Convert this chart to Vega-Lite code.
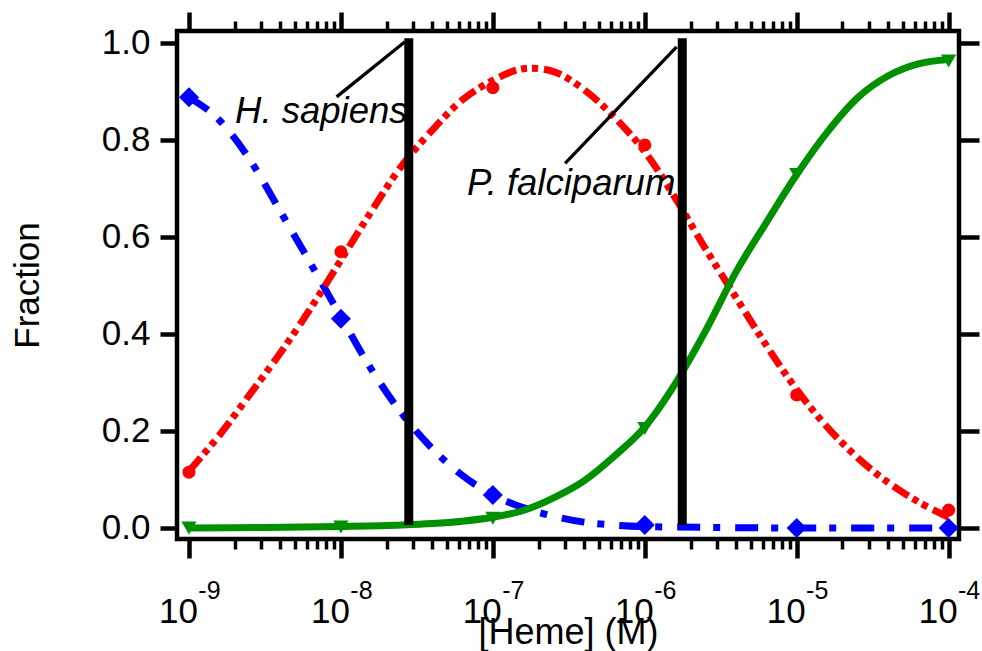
{
  "$schema": "https://vega.github.io/schema/vega-lite/v6.json",
  "autosize": "none",
  "width": 782,
  "height": 508,
  "padding": {"left": 177, "top": 31, "right": 23, "bottom": 112},
  "background": "white",
  "config": {
    "font": "Liberation Sans",
    "view": {"stroke": "black", "strokeWidth": 4.5},
    "axis": {"grid": false, "domain": false, "labelFont": "Liberation Sans", "titleFont": "Liberation Sans", "labelColor": "black", "titleColor": "black", "tickColor": "black", "titleFontWeight": "normal", "labelFlush": false, "labelOverlap": false, "labelBound": false}
  },
  "datasets": {
    "curves": [
      {"s": "b", "x": 1e-9, "y": 0.887}, {"s": "b", "x": 1.585e-9, "y": 0.84}, {"s": "b", "x": 2.512e-9, "y": 0.759}, {"s": "b", "x": 3.981e-9, "y": 0.653}, {"s": "b", "x": 6.31e-9, "y": 0.545}, {"s": "b", "x": 1e-8, "y": 0.435}, {"s": "b", "x": 1.585e-8, "y": 0.327}, {"s": "b", "x": 2.512e-8, "y": 0.236}, {"s": "b", "x": 3.981e-8, "y": 0.164}, {"s": "b", "x": 6.31e-8, "y": 0.108}, {"s": "b", "x": 1e-7, "y": 0.068}, {"s": "b", "x": 1.585e-7, "y": 0.042}, {"s": "b", "x": 2.512e-7, "y": 0.024}, {"s": "b", "x": 3.981e-7, "y": 0.012}, {"s": "b", "x": 6.31e-7, "y": 0.006}, {"s": "b", "x": 1e-6, "y": 0.003}, {"s": "b", "x": 3.162e-6, "y": 0.001}, {"s": "b", "x": 1e-5, "y": 0.0}, {"s": "b", "x": 1e-4, "y": 0.0},
      {"s": "r", "x": 1e-9, "y": 0.117}, {"s": "r", "x": 1.585e-9, "y": 0.191}, {"s": "r", "x": 2.512e-9, "y": 0.275}, {"s": "r", "x": 3.981e-9, "y": 0.36}, {"s": "r", "x": 6.31e-9, "y": 0.452}, {"s": "r", "x": 1e-8, "y": 0.552}, {"s": "r", "x": 1.585e-8, "y": 0.652}, {"s": "r", "x": 2.512e-8, "y": 0.746}, {"s": "r", "x": 3.981e-8, "y": 0.819}, {"s": "r", "x": 6.31e-8, "y": 0.882}, {"s": "r", "x": 1e-7, "y": 0.922}, {"s": "r", "x": 1.585e-7, "y": 0.946}, {"s": "r", "x": 2.512e-7, "y": 0.94}, {"s": "r", "x": 3.981e-7, "y": 0.903}, {"s": "r", "x": 6.31e-7, "y": 0.846}, {"s": "r", "x": 1e-6, "y": 0.775}, {"s": "r", "x": 1.585e-6, "y": 0.68}, {"s": "r", "x": 2.512e-6, "y": 0.575}, {"s": "r", "x": 3.981e-6, "y": 0.475}, {"s": "r", "x": 6.31e-6, "y": 0.376}, {"s": "r", "x": 1e-5, "y": 0.285}, {"s": "r", "x": 1.585e-5, "y": 0.208}, {"s": "r", "x": 2.512e-5, "y": 0.145}, {"s": "r", "x": 3.981e-5, "y": 0.094}, {"s": "r", "x": 6.31e-5, "y": 0.054}, {"s": "r", "x": 1e-4, "y": 0.022},
      {"s": "g", "x": 1e-9, "y": 0.0}, {"s": "g", "x": 3.162e-9, "y": 0.001}, {"s": "g", "x": 1e-8, "y": 0.003}, {"s": "g", "x": 2.512e-8, "y": 0.006}, {"s": "g", "x": 3.981e-8, "y": 0.009}, {"s": "g", "x": 6.31e-8, "y": 0.014}, {"s": "g", "x": 1e-7, "y": 0.022}, {"s": "g", "x": 1.585e-7, "y": 0.036}, {"s": "g", "x": 2.512e-7, "y": 0.062}, {"s": "g", "x": 3.981e-7, "y": 0.097}, {"s": "g", "x": 6.31e-7, "y": 0.148}, {"s": "g", "x": 1e-6, "y": 0.208}, {"s": "g", "x": 1.585e-6, "y": 0.297}, {"s": "g", "x": 2.512e-6, "y": 0.406}, {"s": "g", "x": 3.981e-6, "y": 0.527}, {"s": "g", "x": 6.31e-6, "y": 0.629}, {"s": "g", "x": 1e-5, "y": 0.728}, {"s": "g", "x": 1.585e-5, "y": 0.815}, {"s": "g", "x": 2.512e-5, "y": 0.886}, {"s": "g", "x": 3.981e-5, "y": 0.931}, {"s": "g", "x": 6.31e-5, "y": 0.956}, {"s": "g", "x": 1e-4, "y": 0.965}
    ],
    "points": [
      {"s": "b", "x": 1e-9, "y": 0.887}, {"s": "b", "x": 1e-8, "y": 0.431}, {"s": "b", "x": 1e-7, "y": 0.068}, {"s": "b", "x": 1e-6, "y": 0.006}, {"s": "b", "x": 1e-5, "y": 0.0}, {"s": "b", "x": 1e-4, "y": 0.0},
      {"s": "r", "x": 1e-9, "y": 0.115}, {"s": "r", "x": 1e-8, "y": 0.569}, {"s": "r", "x": 1e-7, "y": 0.907}, {"s": "r", "x": 1e-6, "y": 0.789}, {"s": "r", "x": 1e-5, "y": 0.274}, {"s": "r", "x": 1e-4, "y": 0.037},
      {"s": "g", "x": 1e-9, "y": 0.0}, {"s": "g", "x": 1e-8, "y": 0.002}, {"s": "g", "x": 1e-7, "y": 0.02}, {"s": "g", "x": 1e-6, "y": 0.205}, {"s": "g", "x": 1e-5, "y": 0.728}, {"s": "g", "x": 1e-4, "y": 0.962}
    ],
    "bars": [
      {"x": 2.797e-8, "y": 0.006, "y2": 1.009},
      {"x": 1.765e-6, "y": 0.006, "y2": 1.009}
    ],
    "leaders": [
      {"x": 9.37e-9, "y": 0.888, "x2": 2.64e-8, "y2": 1.0017},
      {"x": 2.99e-7, "y": 0.751, "x2": 1.62e-6, "y2": 0.991}
    ],
    "labels": [
      {"x": 2.01e-9, "y": 0.834, "t": "H. sapiens"},
      {"x": 6.76e-8, "y": 0.686, "t": "P. falciparum"}
    ]
  },
  "resolve": {"axis": {"x": "independent", "y": "independent"}},
  "layer": [
    {
      "data": {"name": "curves"},
      "transform": [{"filter": "datum.s === 'b'"}],
      "mark": {"type": "line", "color": "#0000ff", "strokeWidth": 7, "strokeDash": [23, 13, 7, 15], "interpolate": "monotone"},
      "encoding": {
        "x": {"field": "x", "type": "quantitative", "scale": {"type": "log", "domain": [8.34e-10, 1.17e-4], "nice": false},
          "axis": {"orient": "bottom", "values": [1e-9, 1e-8, 1e-7, 1e-6, 1e-5, 1e-4], "labelExpr": "'10'", "tickSize": 19, "tickWidth": 4.5, "labelFontSize": 35, "labelPadding": 64, "labelBaseline": "alphabetic", "labelAlign": "center", "labelOffset": -11,
            "title": "[Heme] (M)", "titleFontSize": 36, "titleY": 104, "titleBaseline": "alphabetic"}},
        "y": {"field": "y", "type": "quantitative", "scale": {"domain": [-0.0227, 1.0237], "nice": false, "zero": false},
          "axis": {"orient": "left", "values": [0, 0.2, 0.4, 0.6, 0.8, 1.0], "format": ".1f", "tickSize": 17, "tickWidth": 4.5, "labelFontSize": 35, "labelPadding": 10, "labelBaseline": "middle",
            "title": "Fraction", "titleFontSize": 35, "titleX": -150, "titleY": 254, "titleAlign": "center", "titleBaseline": "middle", "titleAngle": -90}}
      }
    },
    {
      "data": {"name": "curves"},
      "transform": [{"filter": "datum.s === 'r'"}],
      "mark": {"type": "line", "color": "#ff0000", "strokeWidth": 7, "strokeDash": [18, 5, 6, 5, 6, 6], "interpolate": "catmull-rom"},
      "encoding": {
        "x": {"field": "x", "type": "quantitative", "scale": {"type": "log", "domain": [8.34e-10, 1.17e-4], "nice": false},
          "axis": {"orient": "bottom", "values": [2e-9,3e-9,4e-9,5e-9,6e-9,7e-9,8e-9,9e-9,2e-8,3e-8,4e-8,5e-8,6e-8,7e-8,8e-8,9e-8,2e-7,3e-7,4e-7,5e-7,6e-7,7e-7,8e-7,9e-7,2e-6,3e-6,4e-6,5e-6,6e-6,7e-6,8e-6,9e-6,2e-5,3e-5,4e-5,5e-5,6e-5,7e-5,8e-5,9e-5], "labels": false, "tickSize": 10, "tickWidth": 3.5, "title": null}},
        "y": {"field": "y", "type": "quantitative", "scale": {"domain": [-0.0227, 1.0237], "nice": false, "zero": false},
          "axis": {"orient": "right", "values": [0, 0.2, 0.4, 0.6, 0.8, 1.0], "labels": false, "tickSize": 20, "tickWidth": 4.5, "title": null}}
      }
    },
    {
      "data": {"name": "curves"},
      "transform": [{"filter": "datum.s === 'g'"}],
      "mark": {"type": "line", "color": "#009000", "strokeWidth": 7, "interpolate": "monotone"},
      "encoding": {
        "x": {"field": "x", "type": "quantitative", "scale": {"type": "log", "domain": [8.34e-10, 1.17e-4], "nice": false},
          "axis": {"orient": "top", "values": [1e-9, 1e-8, 1e-7, 1e-6, 1e-5, 1e-4], "labels": false, "tickSize": 19, "tickWidth": 4.5, "title": null}},
        "y": {"field": "y", "type": "quantitative", "scale": {"domain": [-0.0227, 1.0237], "nice": false, "zero": false}, "axis": null}
      }
    },
    {
      "data": {"name": "points"},
      "mark": {"type": "point", "filled": true, "opacity": 1},
      "encoding": {
        "x": {"field": "x", "type": "quantitative", "scale": {"type": "log", "domain": [8.34e-10, 1.17e-4], "nice": false},
          "axis": {"orient": "top", "values": [2e-9,3e-9,4e-9,5e-9,6e-9,7e-9,8e-9,9e-9,2e-8,3e-8,4e-8,5e-8,6e-8,7e-8,8e-8,9e-8,2e-7,3e-7,4e-7,5e-7,6e-7,7e-7,8e-7,9e-7,2e-6,3e-6,4e-6,5e-6,6e-6,7e-6,8e-6,9e-6,2e-5,3e-5,4e-5,5e-5,6e-5,7e-5,8e-5,9e-5], "labels": false, "tickSize": 10, "tickWidth": 3.5, "title": null}},
        "y": {"field": "y", "type": "quantitative", "scale": {"domain": [-0.0227, 1.0237], "nice": false, "zero": false}, "axis": null},
        "color": {"field": "s", "type": "nominal", "scale": {"domain": ["b", "r", "g"], "range": ["#0000ff", "#ff0000", "#009000"]}, "legend": null},
        "shape": {"field": "s", "type": "nominal", "scale": {"domain": ["b", "r", "g"], "range": ["diamond", "circle", "triangle-down"]}, "legend": null},
        "size": {"field": "s", "type": "nominal", "scale": {"type": "ordinal", "domain": ["b", "r", "g"], "range": [400, 170, 230]}, "legend": null}
      }
    },
    {
      "data": {"name": "bars"},
      "mark": {"type": "rule", "color": "black", "strokeWidth": 9},
      "encoding": {
        "x": {"field": "x", "type": "quantitative", "scale": {"type": "log", "domain": [8.34e-10, 1.17e-4], "nice": false},
          "axis": {"orient": "bottom", "values": [1e-9, 1e-8, 1e-7, 1e-6, 1e-5, 1e-4], "labelExpr": "'-' + (-round(log(datum.value) / LN10))", "ticks": false, "labelFontSize": 25, "labelPadding": 59, "labelBaseline": "alphabetic", "labelAlign": "center", "labelOffset": 20, "title": null}},
        "y": {"field": "y", "type": "quantitative", "scale": {"domain": [-0.0227, 1.0237], "nice": false, "zero": false}, "axis": null},
        "y2": {"field": "y2"}
      }
    },
    {
      "data": {"name": "leaders"},
      "mark": {"type": "rule", "color": "black", "strokeWidth": 3.3},
      "encoding": {
        "x": {"field": "x", "type": "quantitative", "axis": null},
        "x2": {"field": "x2"},
        "y": {"field": "y", "type": "quantitative", "axis": null},
        "y2": {"field": "y2"}
      }
    },
    {
      "data": {"name": "labels"},
      "mark": {"type": "text", "fontSize": 36.5, "fontStyle": "italic", "font": "Liberation Sans", "align": "left", "baseline": "alphabetic", "color": "black"},
      "encoding": {
        "x": {"field": "x", "type": "quantitative", "axis": null},
        "y": {"field": "y", "type": "quantitative", "axis": null},
        "text": {"field": "t"}
      }
    }
  ]
}
